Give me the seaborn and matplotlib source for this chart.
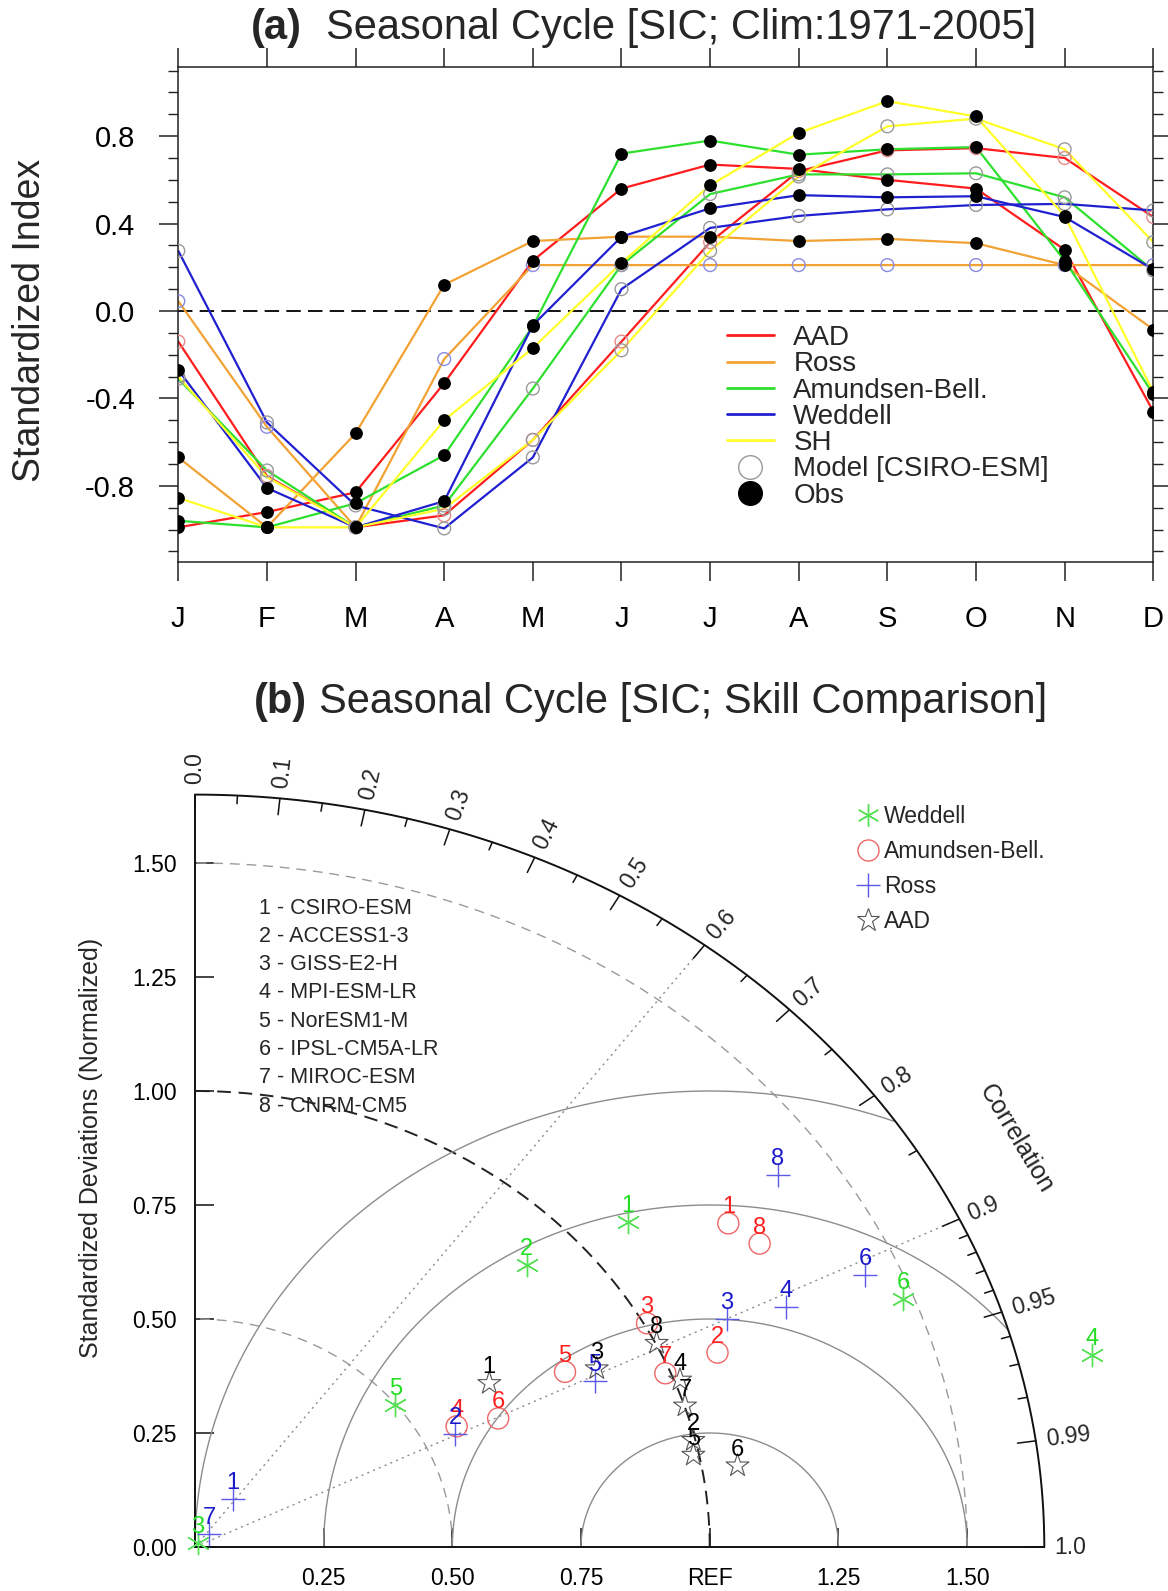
import numpy as np
import pandas as pd
import matplotlib
matplotlib.use("Agg")
import matplotlib.pyplot as plt
from matplotlib.lines import Line2D
from matplotlib.ticker import FixedLocator
import seaborn as sns

sns.set_style("ticks")
plt.rcParams["font.family"] = ["Liberation Sans", "DejaVu Sans"]
plt.rcParams["axes.unicode_minus"] = False

# ---------------- (a) seasonal cycle of standardized SIC ----------------
months = ["J", "F", "M", "A", "M", "J", "J", "A", "S", "O", "N", "D"]
regions = ["AAD", "Ross", "Amundsen-Bell.", "Weddell", "SH"]
region_colors = ["#ff1c1c", "#f2a233", "#2ee02e", "#2020d0", "#ffff2a"]
model_circle_colors = ["#e48a8a", "#8a8ae0", "#9a9a9a", "#9a9a9a", "#9a9a9a"]

obs_aad = [-0.99, -0.92, -0.83, -0.33, 0.23, 0.56, 0.67, 0.65, 0.60, 0.56, 0.28, -0.46]
obs_ross = [-0.67, -0.99, -0.56, 0.12, 0.32, 0.34, 0.34, 0.32, 0.33, 0.31, 0.21, -0.085]
obs_amundsen = [-0.96, -0.99, -0.88, -0.66, -0.07, 0.72, 0.78, 0.715, 0.74, 0.75, 0.23, -0.38]
obs_weddell = [-0.27, -0.81, -0.99, -0.87, -0.065, 0.34, 0.47, 0.53, 0.52, 0.525, 0.43, 0.19]
obs_sh = [-0.855, -0.99, -0.99, -0.50, -0.17, 0.22, 0.575, 0.815, 0.96, 0.89, 0.435, -0.37]

mod_aad = [-0.14, -0.755, -0.99, -0.935, -0.59, -0.14, 0.315, 0.64, 0.735, 0.745, 0.70, 0.43]
mod_ross = [0.045, -0.53, -0.99, -0.22, 0.21, 0.21, 0.21, 0.21, 0.21, 0.21, 0.21, 0.21]
mod_amundsen = [-0.31, -0.73, -0.99, -0.89, -0.355, 0.21, 0.535, 0.625, 0.625, 0.63, 0.52, 0.185]
mod_weddell = [0.275, -0.51, -0.89, -0.995, -0.67, 0.10, 0.38, 0.435, 0.465, 0.485, 0.49, 0.46]
mod_sh = [-0.30, -0.76, -0.99, -0.905, -0.59, -0.18, 0.275, 0.615, 0.845, 0.88, 0.74, 0.315]

obs_series = [obs_aad, obs_ross, obs_amundsen, obs_weddell, obs_sh]
model_series = [mod_aad, mod_ross, mod_amundsen, mod_weddell, mod_sh]

# ---------------- (b) Taylor diagram statistics ----------------
model_names = ["CSIRO-ESM", "ACCESS1-3", "GISS-E2-H", "MPI-ESM-LR",
               "NorESM1-M", "IPSL-CM5A-LR", "MIROC-ESM", "CNRM-CM5"]

weddell_ids = [1, 2, 3, 4, 5, 6]
weddell_std = [1.103, 0.893, 0.010, 1.792, 0.498, 1.480]
weddell_corr = [0.763, 0.722, 0.500, 0.972, 0.781, 0.930]

amundsen_ids = [1, 2, 3, 4, 5, 6, 7, 8]
amundsen_std = [1.256, 1.101, 1.006, 0.573, 0.815, 0.653, 0.990, 1.283]
amundsen_corr = [0.825, 0.922, 0.873, 0.887, 0.882, 0.902, 0.923, 0.855]

ross_ids = [1, 2, 3, 4, 5, 6, 7, 8]
ross_std = [0.128, 0.563, 1.148, 1.263, 0.858, 1.433, 0.040, 1.396]
ross_corr = [0.571, 0.897, 0.900, 0.909, 0.906, 0.909, 0.700, 0.811]

aad_ids = [1, 2, 3, 4, 5, 6, 7, 8]
aad_std = [0.675, 0.996, 0.873, 1.011, 0.989, 1.069, 1.001, 1.002]
aad_corr = [0.847, 0.972, 0.894, 0.932, 0.979, 0.986, 0.951, 0.895]

W, H = 1168, 1591
fig = plt.figure(figsize=(W / 100, H / 100), dpi=100)


def fx(px):
    return px / W


def fy(py):
    return 1 - py / H


# ======================= panel (a) =======================
ax1 = fig.add_axes([fx(178.3), fy(562.3), (1153.3 - 178.3) / W, (562.3 - 67.3) / H])

rows = []
for reg, obs, mod in zip(regions, obs_series, model_series):
    for i in range(12):
        rows.append((i, obs[i], reg, "Obs"))
        rows.append((i, mod[i], reg, "Model"))
df = pd.DataFrame(rows, columns=["month", "value", "region", "source"])

ax1.axhline(0, color="k", lw=1.3, ls=(0, (8, 4)), zorder=1)
sns.lineplot(data=df, x="month", y="value", hue="region", units="source",
             estimator=None, sort=False, palette=dict(zip(regions, region_colors)),
             lw=1.6, legend=False, ax=ax1, zorder=2)
for reg, mc in zip(regions, model_circle_colors):
    sub = df[(df.region == reg) & (df.source == "Model")]
    sns.scatterplot(data=sub, x="month", y="value", marker="o", s=85,
                    facecolor="none", edgecolor=mc, color=mc, linewidth=1.0,
                    legend=False, ax=ax1, zorder=3)
sns.scatterplot(data=df[df.source == "Obs"], x="month", y="value", marker="o",
                s=85, color="k", edgecolor="k", linewidth=0, legend=False,
                ax=ax1, zorder=4)

ax1.set_xlim(0, 11)
ax1.set_ylim(-1.15, 1.115)
ax1.set_xlabel("")
ax1.set_ylabel("")
ax1.set_xticks(range(12))
ax1.set_xticklabels(months)
ax1.set_yticks([-0.8, -0.4, 0.0, 0.4, 0.8])
ax1.set_yticklabels(["-0.8", "-0.4", "0.0", "0.4", "0.8"])
ax1.yaxis.set_minor_locator(FixedLocator(np.round(np.arange(-1.1, 1.11, 0.1), 2)))
ax1.tick_params(which="major", direction="out", length=14, width=1.1,
                top=True, right=True, labelsize=21, pad=17, colors="#222222",
                labelcolor="k")
ax1.tick_params(axis="y", which="minor", direction="out", length=7, width=1.0,
                left=True, right=True, colors="#222222")
ax1.tick_params(axis="x", which="minor", bottom=False, top=False)
for sp in ax1.spines.values():
    sp.set_linewidth(1.1)
    sp.set_color("#222222")

handles_a = [Line2D([], [], color=c, lw=2.0) for c in region_colors]
handles_a.append(Line2D([], [], marker="o", ls="none", mfc="none", mec="#999999",
                        mew=1.0, ms=17))
handles_a.append(Line2D([], [], marker="o", ls="none", mfc="k", mec="k", ms=17))
labels_a = regions + ["Model [CSIRO-ESM]", "Obs"]
ax1.legend(handles_a, labels_a, loc="upper left",
           bbox_to_anchor=((726.7 - 178.3) / 975, (562.3 - 325.0) / 495),
           frameon=False, fontsize=20, handlelength=1.7, handletextpad=0.7,
           labelspacing=0.01, borderpad=0, borderaxespad=0)

fig.text(fx(30.5), fy(320), "Standardized Index", rotation=90, ha="center",
         va="center", fontsize=27)
fig.text(fx(302), fy(28), "(a)", ha="right", va="center", fontsize=30,
         fontweight="bold")
fig.text(fx(326), fy(28), "Seasonal Cycle [SIC; Clim:1971-2005]", ha="left",
         va="center", fontsize=30)

# ======================= panel (b) =======================
R_MAX = 1.65
ax_l, ax_b, ax_r, ax_t = 195.0, 1547.0, 1044.3, 794.6
ax2 = fig.add_axes([fx(ax_l), fy(ax_b), (ax_r - ax_l) / W, (ax_b - ax_t) / H])
ax2.set_xlim(0, R_MAX)
ax2.set_ylim(0, R_MAX)
sx = (ax_r - ax_l) / R_MAX
sy = (ax_b - ax_t) / R_MAX

th = np.linspace(0, np.pi / 2, 500)
# outer correlation arc
ax2.plot(R_MAX * np.cos(th), R_MAX * np.sin(th), color="#111111", lw=1.4,
         clip_on=False, zorder=3)
# standard-deviation arcs around the origin
for r, col, ls, lw in [(0.5, "#9a9a9a", (0, (7, 5)), 1.0),
                       (1.0, "#222222", (0, (7, 4)), 1.4),
                       (1.5, "#9a9a9a", (0, (7, 5)), 1.0)]:
    ax2.plot(r * np.cos(th), r * np.sin(th), color=col, ls=ls, lw=lw, zorder=1)
# centred RMS difference arcs around REF
phi = np.linspace(0, np.pi, 800)
for rr in [0.25, 0.5, 0.75, 1.0]:
    x = 1 + rr * np.cos(phi)
    y = rr * np.sin(phi)
    keep = (x ** 2 + y ** 2 <= R_MAX ** 2) & (x >= -1e-9)
    ax2.plot(np.where(keep, x, np.nan), np.where(keep, y, np.nan),
             color="#8c8c8c", lw=1.0, zorder=1)
# dotted correlation rays
for c in [0.6, 0.9]:
    t = np.arccos(c)
    ax2.plot([0, R_MAX * np.cos(t)], [0, R_MAX * np.sin(t)], color="#8c8c8c",
             ls=(0, (1.5, 3)), lw=1.0, zorder=1)

# correlation ticks and labels on the outer arc
corr_major = [0.0, 0.1, 0.2, 0.3, 0.4, 0.5, 0.6, 0.7, 0.8, 0.9, 0.95, 0.99, 1.0]
corr_major_text = ["0.0", "0.1", "0.2", "0.3", "0.4", "0.5", "0.6", "0.7", "0.8",
                   "0.9", "0.95", "0.99", "1.0"]
corr_minor = [0.05, 0.15, 0.25, 0.35, 0.45, 0.55, 0.65, 0.75, 0.85,
              0.91, 0.92, 0.93, 0.94, 0.96, 0.97, 0.98]
for c, tl in [(c, 0.036) for c in corr_major] + [(c, 0.018) for c in corr_minor]:
    t = np.arccos(c)
    ax2.plot([R_MAX * np.cos(t), (R_MAX - tl) * np.cos(t)],
             [R_MAX * np.sin(t), (R_MAX - tl) * np.sin(t)],
             color="#111111", lw=1.1, clip_on=False, zorder=3)
for c, txt in zip(corr_major, corr_major_text):
    t = np.arccos(c)
    a = np.arctan2(np.sin(t) * sy, np.cos(t) * sx)
    d = 7.5
    ax2.annotate(txt, xy=(R_MAX * np.cos(t), R_MAX * np.sin(t)),
                 xytext=(d * np.cos(a), d * np.sin(a)), textcoords="offset points",
                 rotation=np.degrees(a), rotation_mode="anchor", ha="left",
                 va="center", fontsize=16.5, annotation_clip=False)
ax2.text(1.596, 0.896, "Correlation", rotation=-59, ha="center", va="center",
         fontsize=18, rotation_mode="anchor")

# axes, ticks
ax2.spines["top"].set_visible(False)
ax2.spines["right"].set_visible(False)
for s in ["left", "bottom"]:
    ax2.spines[s].set_linewidth(1.4)
    ax2.spines[s].set_color("#111111")
ax2.set_xticks([0.25, 0.5, 0.75, 1.0, 1.25, 1.5])
ax2.set_xticklabels(["0.25", "0.50", "0.75", "REF", "1.25", "1.50"])
ax2.set_yticks([0.0, 0.25, 0.5, 0.75, 1.0, 1.25, 1.5])
ax2.set_yticklabels(["0.00", "0.25", "0.50", "0.75", "1.00", "1.25", "1.50"])
ax2.tick_params(direction="in", length=14, width=1.1, labelsize=16.5, colors="#111111",
                labelcolor="k")
ax2.tick_params(axis="x", pad=14.5)
ax2.tick_params(axis="y", pad=13)

# model points
taylor_sets = [
    ("Weddell", weddell_ids, weddell_std, weddell_corr, (6, 2, 0), "#55e055", "#22dd22", 260, 1.0),
    ("Amundsen-Bell.", amundsen_ids, amundsen_std, amundsen_corr, "o", "#ee6666", "#ff2020", 230, 1.0),
    ("Ross", ross_ids, ross_std, ross_corr, "+", "#5a5ae6", "#1a1acc", 300, 1.0),
    ("AAD", aad_ids, aad_std, aad_corr, "*", "#555555", "#000000", 300, 0.8),
]
legend_handles = []
for name, ids, std, corr, mk, mcol, tcol, size, lw in taylor_sets:
    tdf = pd.DataFrame({"model": ids, "std": std, "corr": corr})
    tdf["X"] = tdf["std"] * tdf["corr"]
    tdf["Y"] = tdf["std"] * np.sqrt(1 - tdf["corr"] ** 2)
    if mk in ("o", "*"):
        sns.scatterplot(data=tdf, x="X", y="Y", marker=mk, s=size, facecolor="none",
                        edgecolor=mcol, color=mcol, linewidth=lw, legend=False,
                        ax=ax2, zorder=4, clip_on=False)
        legend_handles.append(Line2D([], [], marker=mk, ls="none", mfc="none",
                                     mec=mcol, mew=lw, ms=np.sqrt(size)))
    else:
        sns.scatterplot(data=tdf, x="X", y="Y", marker=mk, s=size, color=mcol,
                        linewidth=lw, legend=False, ax=ax2, zorder=4, clip_on=False)
        legend_handles.append(Line2D([], [], marker=mk, ls="none", color=mcol,
                                     mew=lw, ms=np.sqrt(size)))
    for _, row in tdf.iterrows():
        ax2.annotate(str(int(row["model"])), xy=(row["X"], row["Y"]),
                     xytext=(0, 11.5), textcoords="offset points", ha="center",
                     va="center", fontsize=17, color=tcol, zorder=5,
                     annotation_clip=False)
ax2.set_xlabel("")
ax2.set_ylabel("")

ax2.legend(legend_handles, [t[0] for t in taylor_sets], loc="upper left",
           bbox_to_anchor=((857.6 - ax_l) / (ax_r - ax_l), (ax_b - 805) / (ax_b - ax_t)),
           frameon=False, fontsize=16.5, handlelength=0.95, handletextpad=0.2,
           labelspacing=0.52, borderpad=0, borderaxespad=0)

for i, nm in enumerate(model_names):
    fig.text(fx(259), fy(908 + 28.3 * i), f"{i + 1} - {nm}", ha="left",
             va="center", fontsize=15.5)

fig.text(fx(91.5), fy(1148), "Standardized Deviations (Normalized)", rotation=90,
         ha="center", va="center", fontsize=18)
fig.text(fx(307), fy(702), "(b)", ha="right", va="center", fontsize=30,
         fontweight="bold")
fig.text(fx(319), fy(702), "Seasonal Cycle [SIC; Skill Comparison]", ha="left",
         va="center", fontsize=30)

fig.savefig("out.png", dpi=100)
